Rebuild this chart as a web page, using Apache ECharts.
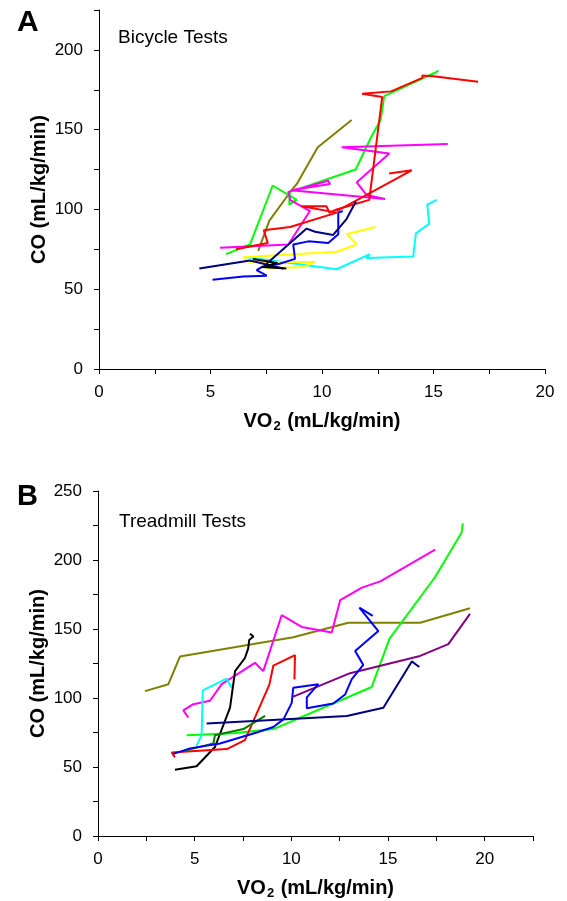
<!DOCTYPE html>
<html>
<head>
<meta charset="utf-8">
<script src="https://cdn.jsdelivr.net/npm/echarts@6/dist/echarts.min.js"></script>
<style>
  html, body { margin: 0; padding: 0; background: #fff; }
  #main { width: 567px; height: 901px; }
</style>
</head>
<body>
<div id="main"></div>
<script>
// panel A - bicycle tests, [VO2, CO]
var bikeRed = [[6.14, 75], [7.57, 79], [7.39, 87], [8.57, 89], [10.66, 98], [9.1, 102], [10.2, 102], [10.33, 98], [10.66, 100], [12.12, 106], [12.7, 170.5], [11.8, 172.5], [13.1, 174], [14.5, 182.5], [14.5, 184], [15.0, 183.5], [17.0, 180]];
var bikeRedSpike = [[10.66, 99], [14.02, 124.5], [13.01, 122.5]];
var bikeGreen = [[5.70, 72], [6.77, 78], [7.79, 115], [8.86, 106], [8.53, 103], [8.56, 111], [11.51, 125], [12.23, 146], [12.63, 156], [12.79, 171], [15.11, 186], [15.22, 187]];
var bikeOlive = [[7.14, 74], [7.64, 93], [8.53, 110], [8.87, 116], [9.81, 139], [11.33, 156]];
var bikeMagenta = [[5.43, 76], [8.49, 78], [9.46, 99], [8.57, 106], [8.49, 111], [10.28, 118], [10.36, 116], [8.61, 112], [12.83, 106.5], [12.0, 109], [11.56, 117], [13.02, 135], [10.88, 139], [15.64, 141]];
var bikeCyan = [[6.64, 70], [10.66, 62.5], [12.15, 72], [12.0, 69.5], [14.09, 70.5], [14.21, 85], [14.81, 91], [14.72, 103], [15.14, 106]];
var bikeYellow = [[7.52, 63], [9.16, 64], [9.69, 67], [6.77, 67], [6.47, 70], [10.66, 73.5], [11.56, 78], [11.11, 84.5], [12.38, 89]];
var bikeBlue = [[5.09, 56], [6.47, 58], [7.52, 58.5], [7.07, 62], [7.31, 64], [8.1, 66], [8.79, 69], [8.71, 78], [9.39, 80], [10.28, 79], [10.73, 84.5], [10.73, 98], [10.93, 99]];
var bikeNavy = [[4.5, 63], [6.77, 68], [8.27, 63], [7.44, 65], [9.31, 88], [9.69, 86], [10.5, 84], [11.1, 94], [11.52, 105]];
var bikeBlack = [[6.9, 69], [8.0, 66.5], [7.3, 64], [8.4, 63]];

// panel B - treadmill tests, [VO2, CO]
var runOlive = [[2.43, 105], [3.64, 110], [4.24, 130], [10.1, 144], [12.95, 154.5], [16.66, 154.5], [19.24, 165]];
var runBlack = [[3.98, 48], [5.1, 50.5], [6.05, 64.5], [6.83, 93], [7.09, 119.5], [7.6, 129], [7.77, 136], [7.82, 142], [8.04, 144.5], [7.86, 146.5]];
var runCyan = [[5.1, 65.5], [5.36, 73], [5.42, 105.5], [6.65, 114], [6.91, 107.5]];
var runMagenta = [[4.67, 86], [4.41, 91], [4.93, 95.5], [5.79, 98], [6.4, 110], [8.12, 125.5], [8.55, 119.5], [9.5, 160], [10.54, 151.5], [12.09, 147.5], [12.53, 171], [13.65, 180], [14.6, 184.5], [17.44, 207.5]];
var runGreen = [[4.59, 73], [7.0, 74.5], [9.07, 77.5], [14.16, 108], [15.08, 143], [17.43, 187.5], [18.81, 220], [18.87, 226.5]];
var runRed = [[3.98, 57], [3.81, 60.5], [6.66, 63], [7.6, 69.5], [8.86, 109.5], [9.07, 123.5], [10.19, 131], [10.16, 113.5]];
var runBlue = [[3.9, 59.5], [4.76, 63.5], [6.31, 67], [8.21, 75], [9.07, 79], [9.59, 84.5], [10.02, 96.5], [10.1, 107.5], [11.4, 110], [10.8, 100.5], [10.8, 92.5], [12.17, 96], [12.78, 102.5], [13.12, 113.5], [13.72, 124], [13.3, 134], [14.5, 148.5], [13.52, 165.5], [14.21, 159.5]];
var runPurple = [[10.1, 101], [13.04, 118], [16.66, 130.5], [18.12, 139], [19.24, 161]];
var runNavy = [[5.62, 81.5], [12.87, 87], [14.76, 93], [16.23, 126.5], [16.62, 122.5]];
var runDarkGreen = [[4.4, 61.5], [5.97, 67], [6.05, 73], [7.52, 77.5], [8.64, 87]];

var bikeSeries = [
  [bikeOlive, '#808000'], [bikeGreen, '#00ff00'], [bikeMagenta, '#ff00ff'],
  [bikeRed, '#ff0000'], [bikeRedSpike, '#ff0000'], [bikeCyan, '#00ffff'],
  [bikeYellow, '#ffff00'], [bikeBlue, '#0000ff'], [bikeNavy, '#000080'], [bikeBlack, '#000000']
];
var runSeries = [
  [runOlive, '#808000'], [runMagenta, '#ff00ff'], [runGreen, '#00ff00'],
  [runCyan, '#00ffff'], [runBlack, '#000000'], [runRed, '#ff0000'],
  [runDarkGreen, '#008000'], [runPurple, '#800080'], [runNavy, '#000080'], [runBlue, '#0000ff']
];

var font = 'Arial, "Liberation Sans", sans-serif';

function xAxisFor(grid, max) {
  return {
    type: 'value', gridIndex: grid, min: 0, max: max, interval: 2.5,
    splitLine: { show: false },
    axisLine: { onZero: false, lineStyle: { color: '#000', width: 1 } },
    axisTick: { length: 5, lineStyle: { color: '#000' } },
    axisLabel: {
      color: '#000', fontSize: 17, fontFamily: font, margin: 15,
      formatter: function (v) { return v % 5 === 0 ? v : ''; }
    },
    name: '{a|VO}{s|2}{a| (mL/kg/min)}',
    nameLocation: 'middle', nameGap: 40,
    nameTextStyle: {
      rich: {
        a: { fontSize: 20, fontWeight: 'bold', fontFamily: font, color: '#000' },
        s: { fontSize: 13, fontWeight: 'bold', fontFamily: font, color: '#000', padding: [11, 1, 0, 1] }
      }
    }
  };
}
function yAxisFor(grid, max) {
  return {
    type: 'value', gridIndex: grid, min: 0, max: max, interval: 25,
    splitLine: { show: false },
    axisLine: { show: true, onZero: false, lineStyle: { color: '#000', width: 1 } },
    axisTick: { show: true, length: 5, lineStyle: { color: '#000' } },
    axisLabel: {
      color: '#000', fontSize: 17, fontFamily: font, margin: 16,
      formatter: function (v) { return v % 50 === 0 ? v : ''; }
    },
    name: 'CO (mL/kg/min)',
    nameLocation: 'middle', nameGap: 50, nameMoveOverlap: false,
    nameTextStyle: { fontSize: 20, fontWeight: 'bold', fontFamily: font, color: '#000' }
  };
}

var series = [];
bikeSeries.forEach(function (s) {
  series.push({ type: 'line', xAxisIndex: 0, yAxisIndex: 0, data: s[0], symbol: 'none',
    lineStyle: { color: s[1], width: 2 }, silent: true, animation: false });
});
runSeries.forEach(function (s) {
  series.push({ type: 'line', xAxisIndex: 1, yAxisIndex: 1, data: s[0], symbol: 'none',
    lineStyle: { color: s[1], width: 2 }, silent: true, animation: false });
});

var chart = echarts.init(document.getElementById('main'));
chart.setOption({
  backgroundColor: '#fff',
  animation: false,
  title: [
    { text: 'A', left: 17, top: 8, padding: 0, textStyle: { fontSize: 30, fontWeight: 'bold', fontFamily: font, color: '#000' } },
    { text: 'Bicycle Tests', left: 118, top: 28, padding: 0, textStyle: { fontSize: 19, fontWeight: 'normal', fontFamily: font, color: '#000' } },
    { text: 'B', left: 17, top: 482, padding: 0, textStyle: { fontSize: 29, fontWeight: 'bold', fontFamily: font, color: '#000' } },
    { text: 'Treadmill Tests', left: 119, top: 512, padding: 0, textStyle: { fontSize: 19, fontWeight: 'normal', fontFamily: font, color: '#000' } }
  ],
  grid: [
    { left: 99, top: 10, width: 446, height: 359 },
    { left: 98, top: 491, width: 435, height: 349 }
  ],
  xAxis: [xAxisFor(0, 20), xAxisFor(1, 22.5)],
  yAxis: [yAxisFor(0, 225), yAxisFor(1, 250)],
  series: series
});
</script>
</body>
</html>
